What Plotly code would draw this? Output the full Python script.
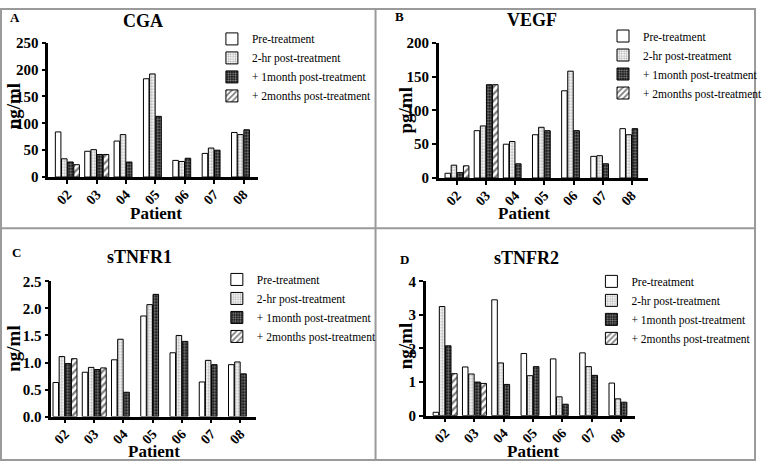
import plotly.graph_objects as go

patients = ["02", "03", "04", "05", "06", "07", "08"]
series_names = ["Pre-treatment", "2-hr post-treatment", "+ 1month post-treatment", "+ 2months post-treatment"]

cga_pre = [84, 48, 67, 183, 31, 44, 83]
cga_2hr = [34, 51, 79, 192, 29, 54, 79]
cga_1m = [28, 42, 28, 113, 35, 50, 88]
cga_2m = [23, 42, None, None, None, None, None]

vegf_pre = [7, 70, 50, 64, 129, 32, 73]
vegf_2hr = [19, 77, 54, 75, 158, 33, 64]
vegf_1m = [8, 138, 21, 70, 70, 21, 73]
vegf_2m = [18, 138, None, None, None, None, None]

tnfr1_pre = [0.63, 0.82, 1.05, 1.86, 1.18, 0.64, 0.96]
tnfr1_2hr = [1.11, 0.91, 1.43, 2.07, 1.50, 1.04, 1.01]
tnfr1_1m = [0.98, 0.87, 0.45, 2.26, 1.39, 0.96, 0.79]
tnfr1_2m = [1.07, 0.90, None, None, None, None, None]

tnfr2_pre = [0.10, 1.45, 3.45, 1.85, 1.69, 1.87, 0.97]
tnfr2_2hr = [3.25, 1.24, 1.57, 1.19, 0.56, 1.46, 0.50]
tnfr2_1m = [2.08, 1.00, 0.93, 1.46, 0.34, 1.20, 0.40]
tnfr2_2m = [1.25, 0.96, None, None, None, None, None]

W, H = 768, 470
SERIF = "Liberation Serif"

patterns = [
    dict(shape="", bgcolor="white"),
    dict(shape=".", fgcolor="#6a6a6a", bgcolor="white", size=3, solidity=0.45),
    dict(shape=".", fgcolor="white", bgcolor="black", size=3, solidity=0.5),
    dict(shape="/", fgcolor="black", bgcolor="white", size=5, solidity=0.45),
]

panels = [
    dict(data=[cga_pre, cga_2hr, cga_1m, cga_2m], title="CGA", letter="A", ylab="ng/ml",
         px=(49, 262), py=(36, 175), yr=250, dtick=50, fmt="d", rng=(-0.65, 6.5),
         title_xy=(145, 13), letter_xy=(8, 10), ylab_xy=(14, 102), xlab_xy=(158, 213),
         leg_xy=(215, 17)),
    dict(data=[vegf_pre, vegf_2hr, vegf_1m, vegf_2m], title="VEGF", letter="B", ylab="pg/ml",
         px=(445, 657), py=(36, 176), yr=200, dtick=50, fmt="d", rng=(-0.63, 6.54),
         title_xy=(540, 12), letter_xy=(399, 9), ylab_xy=(411, 106), xlab_xy=(532, 213),
         leg_xy=(612, 14)),
    dict(data=[tnfr1_pre, tnfr1_2hr, tnfr1_1m, tnfr1_2m], title="sTNFR1", letter="C", ylab="ng/ml",
         px=(52, 260), py=(283, 423), yr=2.5, dtick=0.5, fmt=".1f", rng=(-0.47, 6.54),
         title_xy=(142, 258), letter_xy=(10, 253), ylab_xy=(14, 353), xlab_xy=(156, 459),
         leg_xy=(220, 266)),
    dict(data=[tnfr2_pre, tnfr2_2hr, tnfr2_1m, tnfr2_2m], title="sTNFR2", letter="D", ylab="ng/ml",
         px=(432, 644), py=(283, 422), yr=4, dtick=1, fmt="d", rng=(-0.66, 6.47),
         title_xy=(534, 259), letter_xy=(404, 260), ylab_xy=(411, 350), xlab_xy=(541, 459),
         leg_xy=(600, 268)),
]

fig = go.Figure()
annotations = []
shapes = []
legend_names = ["legend", "legend2", "legend3", "legend4"]


def ann(text, xy, size, bold=True, angle=0, xanchor="center"):
    return dict(text=text, x=xy[0] / W, y=1 - xy[1] / H, xref="paper", yref="paper",
                showarrow=False, textangle=angle, xanchor=xanchor, yanchor="middle",
                font=dict(family=SERIF, size=size, color="black",
                          weight="bold" if bold else "normal"))


for i, p in enumerate(panels):
    xa = "x" if i == 0 else f"x{i+1}"
    ya = "y" if i == 0 else f"y{i+1}"
    for s in range(4):
        fig.add_trace(go.Bar(
            x=patients, y=p["data"][s], name=series_names[s],
            xaxis=xa, yaxis=ya, legend=legend_names[i],
            marker=dict(color="white", line=dict(color="black", width=1), pattern=patterns[s]),
            showlegend=True,
        ))
    xkey = "xaxis" if i == 0 else f"xaxis{i+1}"
    ykey = "yaxis" if i == 0 else f"yaxis{i+1}"
    fig.update_layout(**{
        xkey: dict(domain=[p["px"][0] / W, p["px"][1] / W], anchor=ya, type="category",
                   range=list(p["rng"]), showline=True, linecolor="black", linewidth=2.5,
                   ticks="outside", ticklen=4, tickwidth=2, tickcolor="black", tickangle=-45,
                   ticklabelstandoff=-3,
                   tickfont=dict(family=SERIF, size=14, color="black", weight="bold"),
                   showgrid=False, zeroline=False),
        ykey: dict(domain=[1 - p["py"][1] / H, 1 - p["py"][0] / H], anchor=xa,
                   range=[0, p["yr"]], dtick=p["dtick"], tickformat=p["fmt"],
                   showline=True, linecolor="black", linewidth=2.5,
                   ticks="outside", ticklen=4, tickwidth=2, tickcolor="black",
                   tickfont=dict(family=SERIF, size=15, color="black", weight="bold"),
                   showgrid=False, zeroline=False),
        legend_names[i]: dict(x=p["leg_xy"][0] / W, y=1 - p["leg_xy"][1] / H,
                              xanchor="left", yanchor="top", bgcolor="rgba(0,0,0,0)",
                              font=dict(family=SERIF, size=11.5, color="black"),
                              tracegroupgap=0, itemwidth=30),
    })
    annotations += [
        ann(p["title"], p["title_xy"], 18),
        ann(p["letter"], p["letter_xy"], 13, xanchor="left"),
        ann(p["ylab"], p["ylab_xy"], 19, angle=-90),
        ann("Patient", p["xlab_xy"], 17),
    ]

border = dict(color="#9a9a9a", width=2)
shapes += [
    dict(type="rect", x0=1 / W, x1=766 / W, y0=1 - 468 / H, y1=1 - 1 / H,
         xref="paper", yref="paper", line=border),
    dict(type="line", x0=381 / W, x1=381 / W, y0=1 - 468 / H, y1=1 - 1 / H,
         xref="paper", yref="paper", line=border),
    dict(type="line", x0=1 / W, x1=766 / W, y0=1 - 228 / H, y1=1 - 228 / H,
         xref="paper", yref="paper", line=border),
]

fig.update_layout(
    width=W, height=H, margin=dict(l=0, r=0, t=0, b=0),
    paper_bgcolor="white", plot_bgcolor="white",
    font=dict(family=SERIF, color="black"),
    barmode="group", bargap=0.16, bargroupgap=0.1,
    annotations=annotations, shapes=shapes,
)

page_fix = (
    "document.documentElement.style.margin='0';"
    "document.documentElement.style.padding='0';"
    "document.documentElement.style.overflow='hidden';"
    "document.body.style.margin='0';"
    "document.body.style.padding='0';"
    "document.body.style.overflow='hidden';"
    "var gd=document.getElementById('{plot_id}');"
    "gd.style.position='fixed';gd.style.left='0px';gd.style.top='0px';"
)

fig.write_html("out.html", config={"displayModeBar": False}, post_script=page_fix)
